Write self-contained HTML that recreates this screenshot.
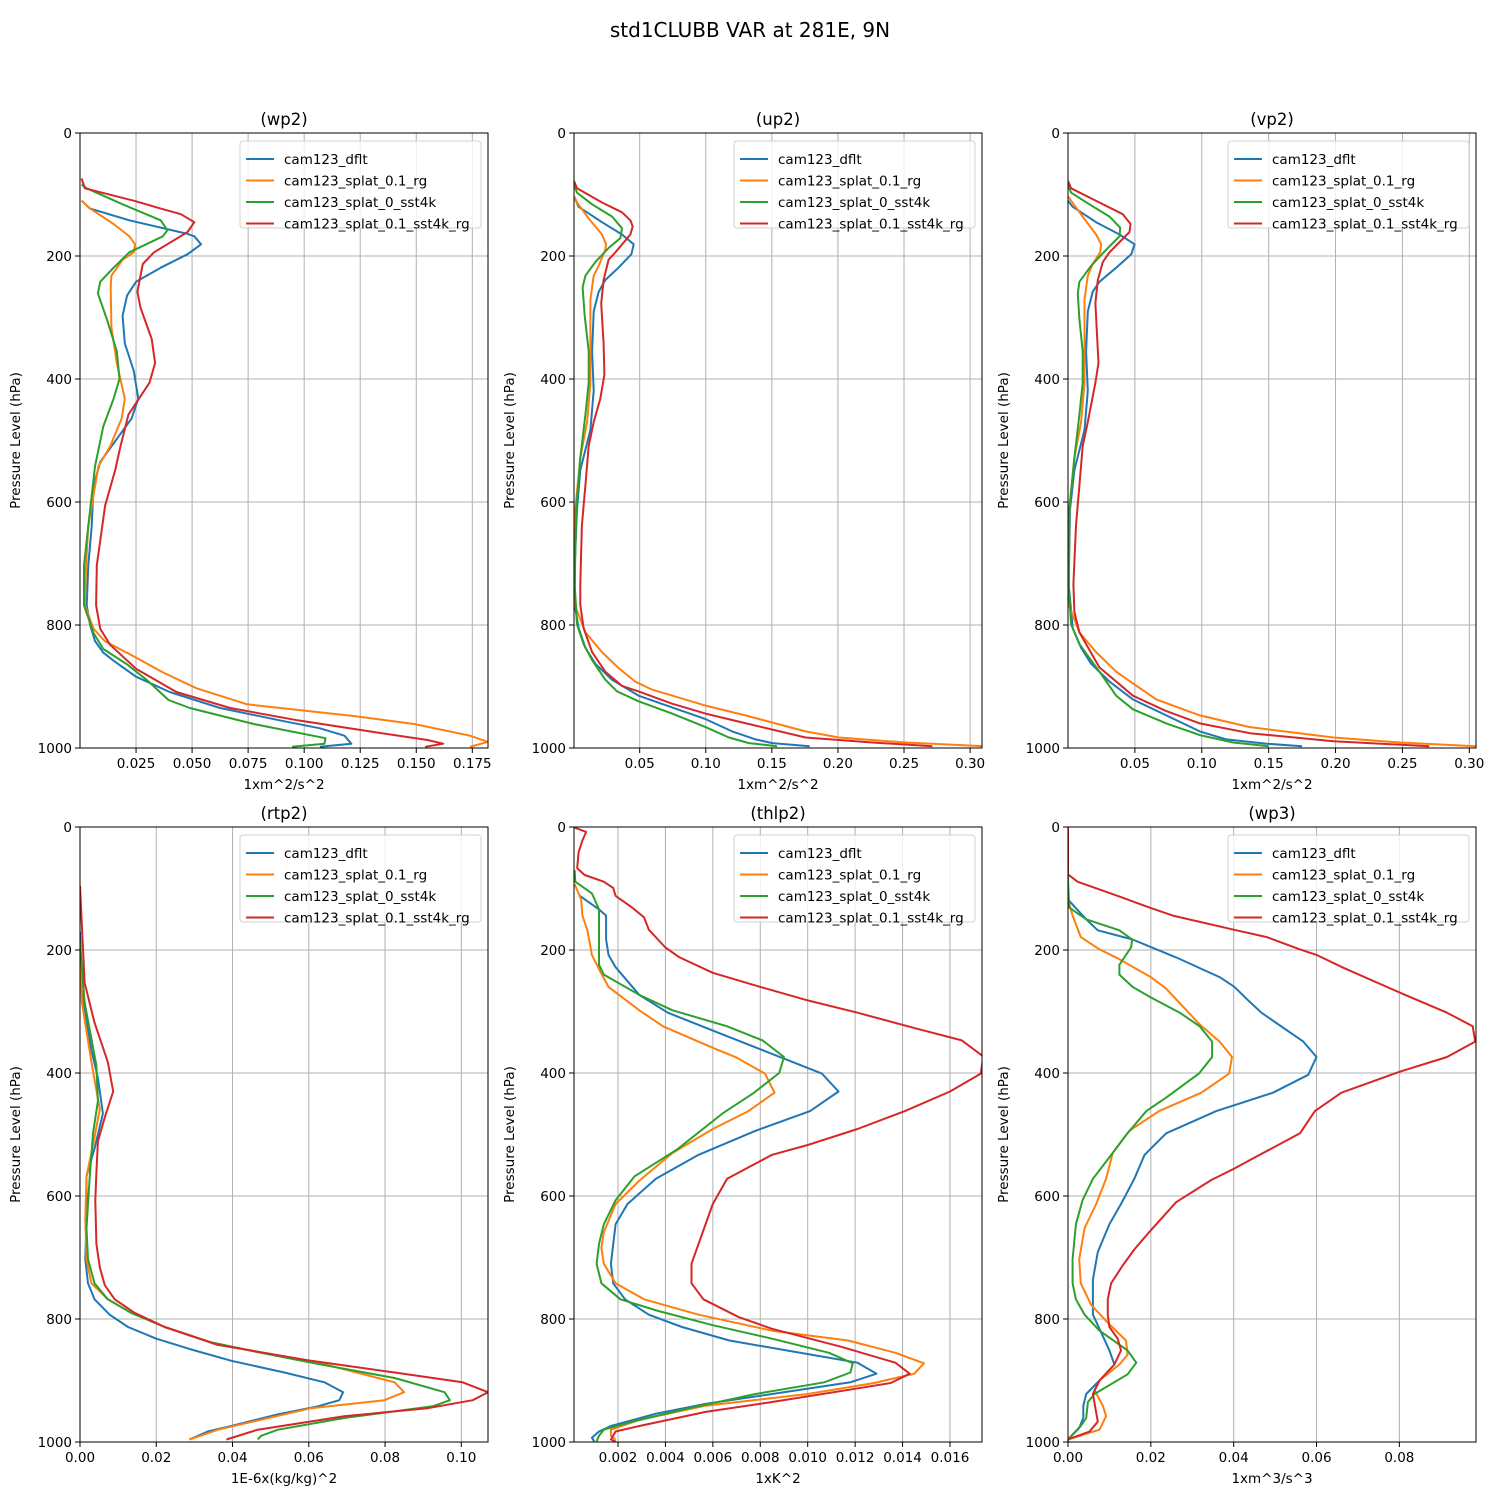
<!DOCTYPE html>
<html><head><meta charset="utf-8"><style>
body{margin:0;background:#fff;}
svg text{font-family:"DejaVu Sans","Liberation Sans",sans-serif;fill:#000;}
</style></head><body>
<svg id="fig" width="1500" height="1500" xmlns="http://www.w3.org/2000/svg">
<rect width="1500" height="1500" fill="#fff"/>
<text x="750" y="37" font-size="20" text-anchor="middle">std1CLUBB VAR at 281E, 9N</text>
</svg>
<script>
const seriesNames=["cam123_dflt","cam123_splat_0.1_rg","cam123_splat_0_sst4k","cam123_splat_0.1_sst4k_rg"];
const colors=["#1f77b4","#ff7f0e","#2ca02c","#d62728"];
const yTicks=[0,200,400,600,800,1000];

// wp2
const wp2_p_dflt=[110,123,142,164,168,181,197,219,242,264,297,342,387,432,464,535,574,639,703,768,800,826,845,858,884,909,935,955,968,980,993,998];
const wp2_v_dflt=[0.0007,0.0045,0.022,0.048,0.051,0.054,0.048,0.036,0.025,0.021,0.019,0.020,0.024,0.026,0.023,0.009,0.006,0.0052,0.0037,0.003,0.0045,0.0067,0.0104,0.015,0.025,0.040,0.0625,0.089,0.107,0.118,0.121,0.107];
const wp2_p_rg=[110,123,148,168,181,194,206,232,252,316,374,432,464,510,542,639,703,768,806,826,851,877,903,929,948,961,980,990,998];
const wp2_v_rg=[0.0007,0.0045,0.015,0.022,0.0246,0.024,0.019,0.014,0.0137,0.014,0.0164,0.020,0.0186,0.0134,0.0082,0.0037,0.0027,0.0022,0.006,0.011,0.024,0.037,0.052,0.0745,0.122,0.149,0.174,0.182,0.174];
const wp2_p_sst=[84,90,116,142,158,168,194,219,242,261,303,355,400,432,477,542,639,703,768,813,839,864,890,922,935,961,984,993,998];
const wp2_v_sst=[0.0007,0.003,0.019,0.036,0.039,0.037,0.022,0.015,0.009,0.008,0.012,0.0164,0.0176,0.015,0.0104,0.0067,0.0037,0.0018,0.0018,0.006,0.0104,0.021,0.030,0.0395,0.049,0.0775,0.1095,0.109,0.0946];
const wp2_p_both=[74,90,110,123,132,145,161,194,213,258,284,335,374,406,458,510,548,606,703,768,806,832,871,909,935,955,974,987,993,998];
const wp2_v_both=[0.0007,0.0022,0.024,0.036,0.045,0.051,0.048,0.033,0.028,0.0256,0.027,0.032,0.0335,0.031,0.0216,0.018,0.0157,0.0112,0.0075,0.0072,0.009,0.0134,0.025,0.043,0.067,0.097,0.131,0.155,0.162,0.154];

// up2
const up2_p_dflt=[103,120,145,165,181,197,219,239,258,290,355,419,483,548,612,702,767,805,837,863,889,915,934,953,973,986,992,997];
const up2_v_dflt=[0.0003,0.0038,0.0215,0.0366,0.0455,0.0437,0.034,0.024,0.019,0.0152,0.014,0.0152,0.0127,0.0051,0.0026,0.0008,0.0008,0.0038,0.0089,0.0164,0.029,0.0492,0.0745,0.0998,0.12,0.1377,0.1503,0.1786];
const up2_p_rg=[103,113,139,165,181,190,216,232,271,355,406,470,528,612,767,812,844,870,892,905,931,947,973,983,991,997];
const up2_v_rg=[0.0003,0.0026,0.0114,0.0215,0.0245,0.024,0.019,0.0152,0.0127,0.0127,0.0127,0.0102,0.0051,0.0013,0.0008,0.0089,0.0215,0.034,0.0467,0.0593,0.0998,0.13,0.1755,0.2008,0.2513,0.3094];
const up2_p_sst=[84,97,116,136,155,171,187,210,232,251,297,355,406,458,528,612,734,799,831,857,889,908,924,944,966,983,992,997];
const up2_v_sst=[0.0003,0.0026,0.014,0.0291,0.0366,0.0353,0.0265,0.0164,0.0089,0.0068,0.0084,0.0114,0.0114,0.0089,0.0051,0.002,0.0008,0.0026,0.0076,0.014,0.024,0.0329,0.0492,0.0745,0.0998,0.1175,0.1327,0.154];
const up2_p_both=[78,90,113,129,142,152,165,194,206,239,277,342,393,432,470,509,573,638,734,767,805,844,876,899,908,928,944,957,983,991,997];
const up2_v_both=[0.0003,0.0026,0.0215,0.0366,0.043,0.0447,0.043,0.0316,0.0265,0.0227,0.0209,0.0227,0.0233,0.0202,0.0152,0.0114,0.0089,0.0063,0.0051,0.0051,0.0076,0.014,0.024,0.0366,0.0492,0.0745,0.0998,0.125,0.1755,0.226,0.2715];

// vp2
const vp2_p_dflt=[110,120,145,165,181,197,219,242,258,290,355,419,483,548,612,734,805,837,863,892,921,947,973,986,993,997];
const vp2_v_dflt=[0,0.0035,0.021,0.0385,0.0498,0.0473,0.036,0.0235,0.0185,0.0148,0.0135,0.0148,0.0123,0.0048,0.0015,0.0005,0.0035,0.0098,0.0173,0.031,0.0485,0.0735,0.0985,0.1185,0.1485,0.175];
const vp2_p_rg=[103,110,136,165,181,194,213,232,271,406,470,528,612,767,812,844,876,895,921,947,966,983,991,997];
const vp2_v_rg=[0,0.0023,0.011,0.021,0.0248,0.024,0.0185,0.0148,0.0123,0.0123,0.0098,0.0048,0.001,0.0005,0.0085,0.021,0.036,0.0485,0.066,0.0985,0.136,0.1985,0.2485,0.3048];
const vp2_p_sst=[84,97,116,136,154,168,190,216,242,261,303,355,406,458,528,612,734,799,831,876,915,937,960,979,991,997];
const vp2_v_sst=[0,0.0023,0.016,0.031,0.039,0.0385,0.0285,0.0173,0.0085,0.0073,0.0085,0.011,0.011,0.0085,0.0048,0.001,0.0005,0.0023,0.0085,0.0235,0.036,0.0485,0.0735,0.0985,0.1235,0.15];
const vp2_p_both=[78,90,113,132,148,161,194,210,239,277,374,406,470,509,573,638,734,779,812,869,915,940,960,976,989,997];
const vp2_v_both=[0,0.0023,0.0235,0.041,0.0468,0.046,0.031,0.026,0.0223,0.0205,0.0228,0.0205,0.0148,0.011,0.0085,0.006,0.004,0.0048,0.0085,0.0235,0.0485,0.0735,0.0985,0.136,0.1985,0.27];

// rtp2
const rtp2_p_dflt=[170,266,363,408,466,523,568,639,703,742,768,793,813,832,851,868,887,903,919,932,942,955,974,983,996];
const rtp2_v_dflt=[0,0.0005,0.003,0.0047,0.006,0.0038,0.0017,0.0017,0.0014,0.0021,0.0038,0.0078,0.0126,0.020,0.030,0.0397,0.0536,0.0641,0.069,0.068,0.0624,0.0519,0.0397,0.0335,0.0287];
const rtp2_p_rg=[187,285,382,459,517,568,639,703,742,768,790,813,838,855,868,903,919,932,945,980,996];
const rtp2_v_rg=[0,0.0005,0.003,0.0052,0.0034,0.0017,0.0014,0.0017,0.003,0.0073,0.0134,0.0222,0.0344,0.0475,0.0606,0.0825,0.085,0.0798,0.0606,0.0362,0.0287];
const rtp2_p_sst=[187,285,388,446,498,575,652,703,742,768,790,813,838,855,871,896,919,932,942,961,980,990,996];
const rtp2_v_sst=[0,0.0012,0.0043,0.0047,0.0034,0.0025,0.0017,0.0021,0.0038,0.0073,0.0134,0.0222,0.0344,0.0475,0.0606,0.0825,0.0956,0.097,0.0925,0.0693,0.0519,0.0475,0.0466];
const rtp2_p_both=[96,253,318,382,430,472,511,562,607,678,716,745,768,790,813,842,855,868,887,903,919,932,945,958,980,996];
const rtp2_v_both=[0,0.0012,0.0038,0.0073,0.0087,0.0065,0.0047,0.0043,0.004,0.0043,0.0052,0.0065,0.0091,0.0143,0.0222,0.036,0.0484,0.0606,0.0825,0.1003,0.107,0.103,0.0912,0.0693,0.0466,0.0384];

// thlp2
const thlp2_p_dflt=[112,134,144,183,208,228,273,302,331,363,401,430,462,494,533,572,613,646,710,742,768,793,813,835,851,871,889,903,922,938,954,974,983,993,999];
const thlp2_v_dflt=[0.0004,0.0012,0.0015,0.0015,0.0016,0.0019,0.0029,0.0041,0.006,0.0081,0.0106,0.0113,0.0101,0.0078,0.0054,0.0036,0.0024,0.0019,0.0017,0.0018,0.0023,0.0033,0.0047,0.0067,0.0091,0.0121,0.0129,0.0118,0.0085,0.0057,0.0036,0.0017,0.0012,0.0009,0.001];
const thlp2_p_rg=[93,118,144,167,186,208,231,260,298,324,359,375,401,432,462,491,530,575,613,659,684,710,742,768,793,819,835,855,872,889,904,922,941,964,980,990,996];
const thlp2_v_rg=[0.00017,0.00045,0.0005,0.0007,0.0008,0.0009,0.0012,0.0016,0.0029,0.0039,0.006,0.007,0.0082,0.0086,0.0075,0.006,0.0043,0.0029,0.0019,0.0014,0.0013,0.0014,0.0019,0.0031,0.0054,0.0085,0.0117,0.0137,0.0149,0.0145,0.0128,0.0100,0.0057,0.0029,0.0017,0.0017,0.0019];
const thlp2_p_sst=[70,89,108,134,157,224,240,273,298,324,347,374,400,433,466,524,568,607,646,678,710,742,768,787,810,832,855,872,887,903,922,945,967,980,990,999];
const thlp2_v_sst=[0.00017,0.0002,0.0009,0.0012,0.0012,0.0012,0.0014,0.0029,0.0043,0.0066,0.0081,0.009,0.0088,0.0077,0.0064,0.0045,0.0027,0.0019,0.0014,0.0012,0.0011,0.0013,0.0021,0.0037,0.006,0.0085,0.0109,0.0119,0.0118,0.0107,0.0078,0.005,0.0026,0.0014,0.0012,0.0011];
const thlp2_p_both=[1,8,22,41,67,78,89,99,112,131,147,167,196,212,237,260,282,302,328,347,373,401,430,462,491,517,533,572,613,710,742,768,797,816,845,871,889,904,916,935,951,974,983,996,999];
const thlp2_v_both=[0.00017,0.00066,0.0005,0.00034,0.00028,0.00059,0.0014,0.0018,0.0019,0.0026,0.0031,0.0033,0.004,0.0046,0.006,0.008,0.010,0.0121,0.0146,0.0165,0.0174,0.0173,0.016,0.0141,0.0121,0.010,0.0085,0.0066,0.006,0.0051,0.0051,0.0056,0.0071,0.0085,0.0114,0.0137,0.0143,0.0135,0.0116,0.0085,0.0057,0.0029,0.0019,0.0017,0.0019];

// wp3
const wp3_p_dflt=[0,118,150,168,183,212,244,260,282,302,349,374,403,432,462,498,533,572,613,646,691,736,793,816,851,874,900,922,941,961,977,996,1000];
const wp3_v_dflt=[0,0,0.0044,0.0072,0.0156,0.0261,0.0366,0.0402,0.0435,0.0467,0.0568,0.060,0.058,0.0495,0.0358,0.0237,0.0185,0.016,0.0128,0.010,0.0072,0.006,0.006,0.0076,0.010,0.0112,0.0076,0.0044,0.0037,0.0037,0.0027,0,0];
const wp3_p_rg=[0,118,144,179,199,215,244,263,321,349,374,401,432,462,494,530,572,613,652,703,742,777,806,835,858,874,900,916,941,958,980,996,1000];
const wp3_v_rg=[0,0,0.0011,0.0031,0.0076,0.0124,0.020,0.0237,0.0318,0.0366,0.0396,0.0389,0.0322,0.022,0.0148,0.0108,0.0092,0.0068,0.004,0.0027,0.0031,0.0056,0.0096,0.014,0.0144,0.0124,0.0076,0.0064,0.0084,0.0092,0.0076,0,0];
const wp3_p_sst=[0,86,131,150,168,183,196,224,240,260,276,302,324,349,374,401,440,462,501,530,572,607,646,703,742,768,793,819,851,871,890,922,935,961,974,996,1000];
const wp3_v_sst=[0,0,0.0003,0.0044,0.0124,0.0155,0.0152,0.0124,0.0124,0.0156,0.0197,0.027,0.0318,0.0348,0.0348,0.0316,0.0237,0.0189,0.014,0.0108,0.006,0.0035,0.0019,0.0011,0.0011,0.0019,0.004,0.0076,0.0144,0.0165,0.0144,0.0064,0.0048,0.0044,0.0031,0,0];
const wp3_p_both=[0,77,89,111,131,144,167,179,199,208,229,269,302,324,349,374,398,432,462,498,533,556,574,610,658,687,713,742,768,793,813,832,851,874,900,922,967,983,996,1000];
const wp3_v_both=[0,0,0.0023,0.0116,0.0197,0.0253,0.040,0.048,0.056,0.060,0.0665,0.080,0.0915,0.0977,0.0983,0.0915,0.080,0.066,0.0596,0.056,0.0463,0.040,0.0346,0.0261,0.0197,0.016,0.0132,0.0104,0.0096,0.0096,0.010,0.012,0.0128,0.0112,0.0076,0.006,0.0072,0.0052,0,0];

const panels=[
 {key:"wp2",title:"(wp2)",xlabel:"1xm^2/s^2",x0:80,y0:133,xmin:0,xmax:0.182,xTicks:[0.025,0.05,0.075,0.1,0.125,0.15,0.175],xLabels:["0.025","0.050","0.075","0.100","0.125","0.150","0.175"],P:[wp2_p_dflt,wp2_p_rg,wp2_p_sst,wp2_p_both],V:[wp2_v_dflt,wp2_v_rg,wp2_v_sst,wp2_v_both]},
 {key:"up2",title:"(up2)",xlabel:"1xm^2/s^2",x0:574,y0:133,xmin:0.0003,xmax:0.309,xTicks:[0.05,0.1,0.15,0.2,0.25,0.3],xLabels:["0.05","0.10","0.15","0.20","0.25","0.30"],P:[up2_p_dflt,up2_p_rg,up2_p_sst,up2_p_both],V:[up2_v_dflt,up2_v_rg,up2_v_sst,up2_v_both]},
 {key:"vp2",title:"(vp2)",xlabel:"1xm^2/s^2",x0:1068,y0:133,xmin:0,xmax:0.305,xTicks:[0.05,0.1,0.15,0.2,0.25,0.3],xLabels:["0.05","0.10","0.15","0.20","0.25","0.30"],P:[vp2_p_dflt,vp2_p_rg,vp2_p_sst,vp2_p_both],V:[vp2_v_dflt,vp2_v_rg,vp2_v_sst,vp2_v_both]},
 {key:"rtp2",title:"(rtp2)",xlabel:"1E-6x(kg/kg)^2",x0:80,y0:827,xmin:0,xmax:0.107,xTicks:[0,0.02,0.04,0.06,0.08,0.1],xLabels:["0.00","0.02","0.04","0.06","0.08","0.10"],P:[rtp2_p_dflt,rtp2_p_rg,rtp2_p_sst,rtp2_p_both],V:[rtp2_v_dflt,rtp2_v_rg,rtp2_v_sst,rtp2_v_both]},
 {key:"thlp2",title:"(thlp2)",xlabel:"1xK^2",x0:574,y0:827,xmin:0.000145,xmax:0.01735,xTicks:[0.002,0.004,0.006,0.008,0.01,0.012,0.014,0.016],xLabels:["0.002","0.004","0.006","0.008","0.010","0.012","0.014","0.016"],P:[thlp2_p_dflt,thlp2_p_rg,thlp2_p_sst,thlp2_p_both],V:[thlp2_v_dflt,thlp2_v_rg,thlp2_v_sst,thlp2_v_both]},
 {key:"wp3",title:"(wp3)",xlabel:"1xm^3/s^3",x0:1068,y0:827,xmin:0,xmax:0.0985,xTicks:[0,0.02,0.04,0.06,0.08],xLabels:["0.00","0.02","0.04","0.06","0.08"],P:[wp3_p_dflt,wp3_p_rg,wp3_p_sst,wp3_p_both],V:[wp3_v_dflt,wp3_v_rg,wp3_v_sst,wp3_v_both]}
];
const W=408,H=615;
const NS="http://www.w3.org/2000/svg";
const svg=document.getElementById("fig");
function mk(tag,attrs,parent){const e=document.createElementNS(NS,tag);for(const k in attrs)e.setAttribute(k,attrs[k]);(parent||svg).appendChild(e);return e;}
panels.forEach(pn=>{
  const g=mk("g",{});
  
  
  const xs=v=>pn.x0+(v-pn.xmin)/(pn.xmax-pn.xmin)*W;
  const ys=p=>pn.y0+p/1000*H;
  pn.xTicks.forEach((t,i)=>{
    const X=xs(t);
    const gl=mk("line",{x1:X,x2:X,y1:pn.y0,y2:pn.y0+H,stroke:"#b0b0b0","stroke-width":1},g);
    
    
    mk("line",{x1:X,x2:X,y1:pn.y0+H,y2:pn.y0+H+5,stroke:"#000","stroke-width":1},g);
    const tl=mk("text",{x:X,y:pn.y0+H+20,"font-size":13.5,"text-anchor":"middle"},g);
    tl.textContent=pn.xLabels[i];
    
    
  });
  yTicks.forEach(t=>{
    const Y=ys(t);
    const gl=mk("line",{x1:pn.x0,x2:pn.x0+W,y1:Y,y2:Y,stroke:"#b0b0b0","stroke-width":1},g);
    
    
    mk("line",{x1:pn.x0-5,x2:pn.x0,y1:Y,y2:Y,stroke:"#000","stroke-width":1},g);
    const tl=mk("text",{x:pn.x0-8,y:Y+5,"font-size":13.5,"text-anchor":"end"},g);
    tl.textContent=String(t);
    
    
  });
  const cp=mk("clipPath",{id:"c"+pn.key},g);
  mk("rect",{x:pn.x0,y:pn.y0,width:W,height:H},cp);
  pn.P.forEach((parr,si)=>{
    const d=parr.map((p,i)=>(i?"L":"M")+xs(pn.V[si][i]).toFixed(1)+","+ys(p).toFixed(1)).join("");
    const pa=mk("path",{d:d,fill:"none",stroke:colors[si],"stroke-width":2,"clip-path":"url(#c"+pn.key+")","stroke-linejoin":"round"},g);
    
    
  });
  const fr=mk("rect",{x:pn.x0,y:pn.y0,width:W,height:H,fill:"none",stroke:"#000","stroke-width":1},g);
  
  
  const tt=mk("text",{x:pn.x0+W/2,y:pn.y0-8,"font-size":16.5,"text-anchor":"middle"},g);
  tt.textContent=pn.title;
  
  
  const xl=mk("text",{x:pn.x0+W/2,y:pn.y0+H+41,"font-size":13.5,"text-anchor":"middle"},g);
  xl.textContent=pn.xlabel;
  
  
  const yl=mk("text",{x:0,y:0,"font-size":13.5,"text-anchor":"middle",transform:"translate("+(pn.x0-60)+","+(pn.y0+H/2)+") rotate(-90)"},g);
  yl.textContent="Pressure Level (hPa)";
  
  
  const lg=mk("g",{},g);
  
  
  const lx=pn.x0+160, ly=pn.y0+8;
  mk("rect",{x:lx,y:ly,width:241,height:87,rx:3,fill:"#fff","fill-opacity":0.8,stroke:"#d0d0d0","stroke-width":1},lg);
  seriesNames.forEach((n,si)=>{
    const yy=ly+18+si*21.5;
    const ll=mk("line",{x1:lx+6,x2:lx+34,y1:yy,y2:yy,stroke:colors[si],"stroke-width":2},lg);
    
    
    const lt=mk("text",{x:lx+44,y:yy+5,"font-size":13.5},lg);
    lt.textContent=n;
    
    
  });
});
</script>
</body></html>
